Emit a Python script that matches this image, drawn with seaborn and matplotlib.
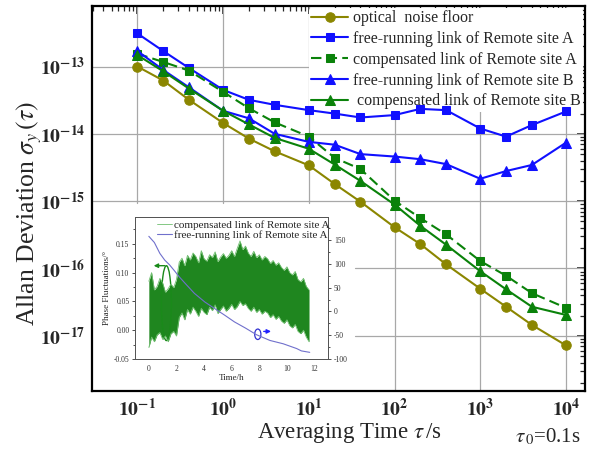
import numpy as np
import pandas as pd
import matplotlib
matplotlib.use("Agg")
import matplotlib.pyplot as plt
import seaborn as sns
from matplotlib.patches import Ellipse
from matplotlib.ticker import (FixedLocator, LogLocator, FuncFormatter, NullFormatter,
                               MultipleLocator, FormatStrFormatter)

# ---------------- data ----------------
tau = [0.1, 0.2, 0.4, 1, 2, 4, 10, 20, 40, 100, 200, 400, 1000, 2000, 4000, 10000]

noise_floor = [1.0e-13, 6.2e-14, 3.2e-14, 1.45e-14, 8.5e-15, 5.5e-15, 3.4e-15, 1.8e-15,
               9.8e-16, 4.1e-16, 2.3e-16, 1.15e-16, 5.0e-17, 2.7e-17, 1.45e-17, 7.2e-18]
free_A = [3.1e-13, 1.7e-13, 9.5e-14, 4.5e-14, 3.2e-14, 2.7e-14, 2.25e-14, 2.0e-14,
          1.75e-14, 1.9e-14, 2.35e-14, 2.25e-14, 1.2e-14, 9.1e-15, 1.35e-14, 2.15e-14]
comp_A = [1.55e-13, 1.17e-13, 8.7e-14, 4.2e-14, 2.4e-14, 1.48e-14, 9.1e-15, 4.4e-15,
          3.0e-15, 1.02e-15, 5.6e-16, 3.2e-16, 1.29e-16, 7.8e-17, 4.3e-17, 2.6e-17]
free_B = [1.7e-13, 8.9e-14, 4.9e-14, 2.2e-14, 1.7e-14, 1.0e-14, 7.6e-15, 6.9e-15,
          5.0e-15, 4.6e-15, 4.2e-15, 3.55e-15, 2.15e-15, 2.8e-15, 3.45e-15, 7.4e-15]
comp_B = [1.48e-13, 8.5e-14, 4.7e-14, 2.2e-14, 1.38e-14, 8.7e-15, 6.0e-15, 3.5e-15,
          2.0e-15, 8.9e-16, 4.3e-16, 2.25e-16, 9.1e-17, 4.9e-17, 2.7e-17, 2.04e-17]

legend_labels = ["optical  noise floor",
                 "free-running link of Remote site A",
                 "compensated link of Remote site A",
                 "free-running link of Remote site B",
                 " compensated link of Remote site B"]

x_decades = [1e-1, 1e0, 1e1, 1e2, 1e3, 1e4]
y_decades = [1e-17, 1e-16, 1e-15, 1e-14, 1e-13]

# inset: phase record of the compensated link (upper / lower excursions, 0.2 h steps)
phase_t = np.round(np.arange(0.0, 11.61, 0.2), 2)
phase_hi = [0.085, 0.100, 0.070, 0.076, 0.090, 0.082, 0.066, 0.072, 0.080, 0.074,
            0.088, 0.118, 0.125, 0.112, 0.130, 0.122, 0.134, 0.128, 0.117, 0.138,
            0.124, 0.120, 0.131, 0.126, 0.136, 0.119, 0.127, 0.133, 0.125, 0.130,
            0.138, 0.128, 0.142, 0.155, 0.140, 0.146, 0.134, 0.128, 0.137, 0.126,
            0.131, 0.122, 0.128, 0.124, 0.116, 0.121, 0.113, 0.117, 0.109, 0.104,
            0.110, 0.100, 0.096, 0.102, 0.088, 0.084, 0.090, 0.076, 0.070]
phase_lo = [-0.030, -0.012, -0.020, -0.008, -0.004, -0.016, -0.010, -0.020, -0.006, -0.002,
            -0.010, 0.022, 0.030, 0.018, 0.036, 0.028, 0.040, 0.033, 0.024, 0.038,
            0.031, 0.027, 0.040, 0.034, 0.044, 0.029, 0.036, 0.042, 0.033, 0.038,
            0.045, 0.036, 0.041, 0.050, 0.043, 0.046, 0.038, 0.033, 0.040, 0.031,
            0.036, 0.028, 0.033, 0.030, 0.022, 0.027, 0.019, 0.024, 0.016, 0.012,
            0.018, 0.008, 0.004, 0.010, -0.002, -0.006, 0.000, -0.012, -0.020]

# inset: phase drift of the free-running link (right axis, degrees)
drift_t = [0, 0.4, 0.8, 1.15, 1.5, 1.87, 2.2, 2.6, 3.3, 4.05, 4.77, 5.5, 6.2, 7.0,
           7.8, 8.77, 9.73, 10.7, 11.05, 11.65]
drift_v = [158, 145, 122, 108, 98, 85, 73, 60, 38, 20, 6, -8, -22, -35, -49, -61,
           -68, -78, -83, -86]

# ---------------- style ----------------
sns.set_style("white")
plt.rcParams["font.family"] = ["Liberation Serif", "DejaVu Serif"]
plt.rcParams["mathtext.fontset"] = "stix"
plt.rcParams["axes.unicode_minus"] = False

OLIVE = "#8b8600"
BLUE = "#1010ff"
GREEN = "#0a820a"
GRID = "#a8a8a8"

fig = plt.figure(figsize=(5.98, 4.55), dpi=100)
ax = fig.add_axes([0.1544, 0.1407, 0.8236, 0.8462])

series = [
    (noise_floor, OLIVE, "o", "-", 6.8),
    (free_A, BLUE, "s", "-", 6.0),
    (comp_A, GREEN, "s", (0, (5, 2.5)), 6.0),
    (free_B, BLUE, "^", "-", 7.0),
    (comp_B, GREEN, "^", "-", 7.0),
]
for (vals, col, mk, ls, ms), lab in zip(series, legend_labels):
    df = pd.DataFrame({"tau": tau, "adev": vals})
    sns.lineplot(data=df, x="tau", y="adev", ax=ax, color=col, marker=mk,
                 markersize=ms, markeredgecolor=col, linewidth=1.5,
                 linestyle=ls, label=lab, estimator=None, zorder=3)

ax.set_xscale("log")
ax.set_yscale("log")
xlo, xhi = -1.526, 4.22
ylo, yhi = -17.82, -12.10
ax.set_xlim(10 ** xlo, 10 ** xhi)
ax.set_ylim(10 ** ylo, 10 ** yhi)

# grid: the lower-left area under the inset stays blank
box_right, box_top = 0.533, 0.487
for d in x_decades:
    frac = (np.log10(d) - xlo) / (xhi - xlo)
    ymin = box_top if frac < box_right else 0.0
    ax.axvline(d, ymin=ymin, ymax=1, color=GRID, lw=0.9, zorder=0.8)
for d in y_decades:
    frac = (np.log10(d) - ylo) / (yhi - ylo)
    xmin = box_right if frac < box_top else 0.0
    ax.axhline(d, xmin=xmin, xmax=1, color=GRID, lw=0.9, zorder=0.8)

dec_fmt = FuncFormatter(lambda v, p: r"$\mathbf{10^{%d}}$" % int(round(np.log10(v))))
for axis, majors in ((ax.xaxis, x_decades), (ax.yaxis, y_decades)):
    axis.set_major_locator(FixedLocator(majors))
    axis.set_minor_locator(LogLocator(base=10, subs=np.arange(2, 10), numticks=20))
    axis.set_major_formatter(dec_fmt)
    axis.set_minor_formatter(NullFormatter())
ax.tick_params(which="both", direction="in", top=True, right=True, labelsize=14)
ax.tick_params(which="major", length=6, width=1.2, pad=5)
ax.tick_params(which="minor", length=3.5, width=0.9)
for s in ax.spines.values():
    s.set_linewidth(1.6)
    s.set_color("black")

ax.set_xlabel(r"Averaging Time $\tau\,$/s", fontsize=16.5)
ax.xaxis.set_label_coords(0.522, -0.078)
ax.set_ylabel(r"Allan Deviation $\sigma_y\,(\tau)$", fontsize=18.5)
ax.yaxis.set_label_coords(-0.098, 0.462)

leg = ax.legend(loc="upper left", bbox_to_anchor=(0.44, 0.995), fontsize=11.5,
                frameon=True, facecolor="white", edgecolor="none", framealpha=1,
                handlelength=2.3, handletextpad=0.3, labelspacing=0.3,
                borderpad=0.15, borderaxespad=0.0)
# the legend hides the grid but the curves stay on top of its frame
leg.set_zorder(2.5)

fig.text(0.862, 0.040, r"$\tau_{\,0}$=0.1s", fontsize=15, va="center", ha="left")

# ---------------- inset ----------------
inax = fig.add_axes([0.2258, 0.2110, 0.3233, 0.3114])
inax.set_facecolor("white")
inax.fill_between(phase_t, phase_lo, phase_hi, color="#1f861f", lw=0)
sns.lineplot(x=phase_t, y=phase_hi, ax=inax, color="#6fbf6f", linewidth=0.6,
             estimator=None, sort=False, label="compensated link of Remote site A")
sns.lineplot(x=phase_t, y=phase_lo, ax=inax, color="#6fbf6f", linewidth=0.6,
             estimator=None, sort=False)
inax.set_xlim(-1, 13)
inax.set_ylim(-0.05, 0.196)
inax.xaxis.set_major_locator(MultipleLocator(2))
inax.xaxis.set_minor_locator(MultipleLocator(1))
inax.yaxis.set_major_locator(MultipleLocator(0.05))
inax.yaxis.set_minor_locator(MultipleLocator(0.025))
inax.yaxis.set_major_formatter(FormatStrFormatter("%.2f"))
inax.set_xlabel("Time/h", fontsize=6.5, labelpad=1)
inax.set_ylabel("Phase Fluctuations/°", fontsize=6.5, labelpad=2)

inax.add_patch(Ellipse((1.27, 0.047), 0.72, 0.13, fill=False, ec="#1a8a1a", lw=1.0))
inax.annotate("", xy=(0.15, 0.112), xytext=(1.35, 0.112),
              arrowprops=dict(arrowstyle="-|>", color="#1a8a1a", lw=1.0,
                              mutation_scale=6))

inax2 = inax.twinx()
sns.lineplot(x=drift_t, y=drift_v, ax=inax2, color="#7070cc", linewidth=0.8,
             estimator=None, sort=False, label="free-running link of Remote site A")
inax2.set_ylim(-100, 198)
inax2.yaxis.set_major_locator(MultipleLocator(50))
inax2.yaxis.set_minor_locator(MultipleLocator(25))
inax2.add_patch(Ellipse((7.89, -48), 0.45, 22, fill=False, ec="#3030d0", lw=0.9))
inax2.annotate("", xy=(9.05, -42), xytext=(8.12, -42),
               arrowprops=dict(arrowstyle="-|>", color="#2020ff", lw=1.0,
                               mutation_scale=6))

for a in (inax, inax2):
    a.tick_params(which="both", direction="out", labelsize=5.5, width=0.6, pad=1.5,
                  colors="#333333")
    a.tick_params(which="major", length=2.5)
    a.tick_params(which="minor", length=1.5)
    for s in a.spines.values():
        s.set_linewidth(0.7)
        s.set_color("#555555")

inax.legend().remove()
h1, l1 = inax.get_legend_handles_labels()
h2, l2 = inax2.get_legend_handles_labels()
inax2.legend(h1[:1] + h2, l1[:1] + l2, loc="upper left", bbox_to_anchor=(0.08, 1.03),
             fontsize=8, frameon=False, handlelength=1.3, handletextpad=0.2,
             labelspacing=0.05, borderpad=0.1)

fig.savefig("out.png", dpi=100)
